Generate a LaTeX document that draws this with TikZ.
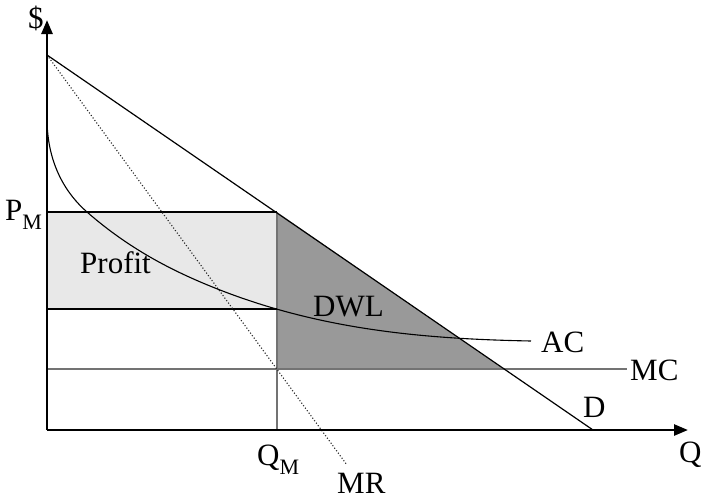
\documentclass[tikz,border=0pt]{standalone}
\usepackage{fontspec}
\setmainfont{Liberation Serif}
\usetikzlibrary{arrows.meta}
\newcommand{\subM}{\raisebox{-0.32em}{\fontsize{22}{22}\selectfont M}}
\tikzset{
  lbl/.style={anchor=base west, inner sep=0pt, font=\fontsize{31}{31}\selectfont},
  axisline/.style={line width=2.6pt, -{Triangle[width=11pt,length=14pt]}},
  curve/.style={line width=1.2pt, black},
  grayline/.style={line width=1.6pt, black!55},
  mrline/.style={line width=1.1pt, dash pattern=on 1.1pt off 2pt, black!85},
}
\begin{document}
\begin{tikzpicture}[x=1pt,y=-1pt]
\useasboundingbox (0,0) rectangle (702,499);
% key coordinates
\coordinate (O) at (47,430);
\coordinate (ytop) at (47,20);
\coordinate (xend) at (688,430);
\coordinate (Dtop) at (47,55);
\coordinate (Dend) at (593,430);
\coordinate (MRend) at (347,465);
\coordinate (PMl) at (47,212);
\coordinate (PMr) at (277,212);
\coordinate (ACl) at (47,309);
\coordinate (ACr) at (277,309);
\coordinate (QMb) at (277,430);
\coordinate (MCl) at (47,369);
\coordinate (MCr) at (627,369);
\coordinate (MCq) at (277,369);
\coordinate (MCd) at (504,369);
\coordinate (AC0) at (47,118);
\coordinate (AC1) at (87,212);
\coordinate (AC2) at (220,290);
\coordinate (AC3) at (531,341);
% fills
\fill[black!9] (PMl) rectangle (ACr);
\fill[black!40] (PMr) -- (MCd) -- (MCq) -- cycle;
% lines
\draw[grayline] (MCl) -- (MCr);
\draw[grayline] (PMr) -- (QMb);
\draw[line width=1.5pt] (PMl) -- (PMr);
\draw[line width=1.5pt] (ACl) -- (ACr);
\draw[curve] (Dtop) -- (Dend);
\draw[mrline] (Dtop) -- (MRend);
\draw[curve, line width=1.1pt] (AC0) .. controls (47,165) and (67,194.5) .. (AC1)
  .. controls (131,250.5) and (176,272.8) .. (AC2)
  .. controls (324,330.5) and (427,339) .. (AC3);
% axes
\draw[axisline] (O) -- (ytop);
\draw[axisline] (O) -- (xend);
% labels
\node[lbl] (dollar) at (28,28) {\$};
\node[lbl] (pm) at (5,220) {P\subM};
\node[lbl] (profit) at (80,273) {Profit};
\node[lbl] (dwl) at (313,316) {DWL};
\node[lbl] (ac) at (541,352) {AC};
\node[lbl] (mc) at (630,380) {MC};
\node[lbl] (d) at (583,417) {D};
\node[lbl] (q) at (679,462) {Q};
\node[lbl] (qm) at (257,465) {Q\subM};
\node[lbl] (mr) at (337,493) {MR};
\end{tikzpicture}
\end{document}
